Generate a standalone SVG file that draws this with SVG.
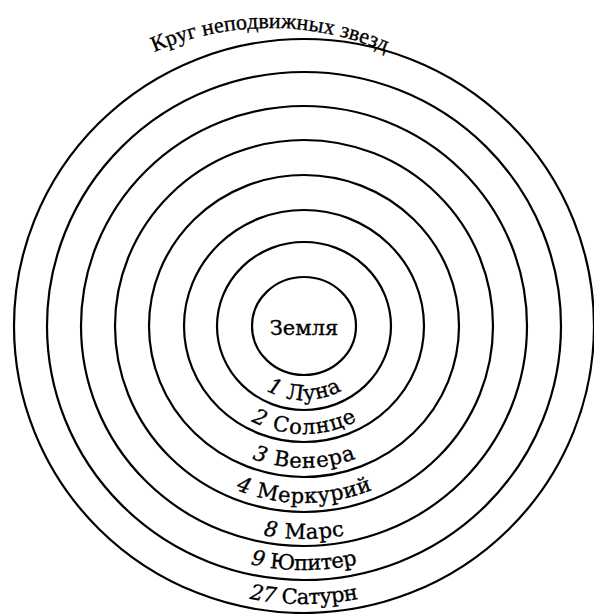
<svg xmlns="http://www.w3.org/2000/svg" width="594" height="614" viewBox="0 0 594 614">
<style>
.ring{fill:none;stroke:#000;stroke-width:2.2}
.lbl{font-family:"DejaVu Serif","Liberation Serif",serif;font-size:21px;fill:#000;stroke:#000;stroke-width:0.35}
.top{font-family:"Liberation Serif","DejaVu Serif",serif;font-size:22px}
.num{font-style:italic}
</style>
<defs>
<path id="pTop" d="M -20 318 A 290 290 0 0 1 560 318"/>
<path id="p1" d="M 227 326 A 77 74 0 0 0 381 326"/>
<path id="p2" d="M 193 326 A 111 108 0 0 0 415 326"/>
<path id="p3" d="M 159 326 A 145 142 0 0 0 449 326"/>
<path id="p4" d="M 124 326 A 180 177 0 0 0 484 326"/>
<path id="p5" d="M 88 326 A 216 213 0 0 0 520 326"/>
<path id="p6" d="M 57 326 A 247 244 0 0 0 551 326"/>
<path id="p7" d="M 23 326 A 281 278 0 0 0 585 326"/>
</defs>
<g id="fixed-stars">
<ellipse class="ring" cx="304" cy="326" rx="290" ry="287"/>
<text class="lbl top"><textPath href="#pTop" startOffset="50%" text-anchor="middle" textLength="238">Круг неподвижных звезд</textPath></text>
</g>
<g id="saturn">
<ellipse class="ring" cx="304" cy="326" rx="257" ry="254"/>
<text class="lbl"><textPath href="#p7" startOffset="50%" text-anchor="middle" textLength="110"><tspan class="num">27</tspan> Сатурн</textPath></text>
</g>
<g id="jupiter">
<ellipse class="ring" cx="304" cy="326" rx="223" ry="220"/>
<text class="lbl"><textPath href="#p6" startOffset="50%" text-anchor="middle" textLength="108"><tspan class="num">9</tspan> Юпитер</textPath></text>
</g>
<g id="mars">
<ellipse class="ring" cx="304" cy="326" rx="189" ry="186"/>
<text class="lbl"><textPath href="#p5" startOffset="50%" text-anchor="middle" textLength="82"><tspan class="num">8</tspan> Марс</textPath></text>
</g>
<g id="mercury">
<ellipse class="ring" cx="304" cy="326" rx="155" ry="151"/>
<text class="lbl"><textPath href="#p4" startOffset="50%" text-anchor="middle" textLength="140"><tspan class="num">4</tspan> Меркурий</textPath></text>
</g>
<g id="venus">
<ellipse class="ring" cx="304" cy="326" rx="120" ry="116"/>
<text class="lbl"><textPath href="#p3" startOffset="50%" text-anchor="middle" textLength="106"><tspan class="num">3</tspan> Венера</textPath></text>
</g>
<g id="sun">
<ellipse class="ring" cx="304" cy="326" rx="87" ry="84"/>
<text class="lbl"><textPath href="#p2" startOffset="50%" text-anchor="middle" textLength="110"><tspan class="num">2</tspan> Солнце</textPath></text>
</g>
<g id="moon">
<text class="lbl"><textPath href="#p1" startOffset="50%" text-anchor="middle" textLength="79"><tspan class="num">1</tspan> Луна</textPath></text>
</g>
<g id="earth">
<ellipse class="ring" cx="304" cy="326" rx="52" ry="49"/>
<text class="lbl" x="304" y="335" text-anchor="middle">Земля</text>
</g>
<g id="connectors"/>
</svg>
